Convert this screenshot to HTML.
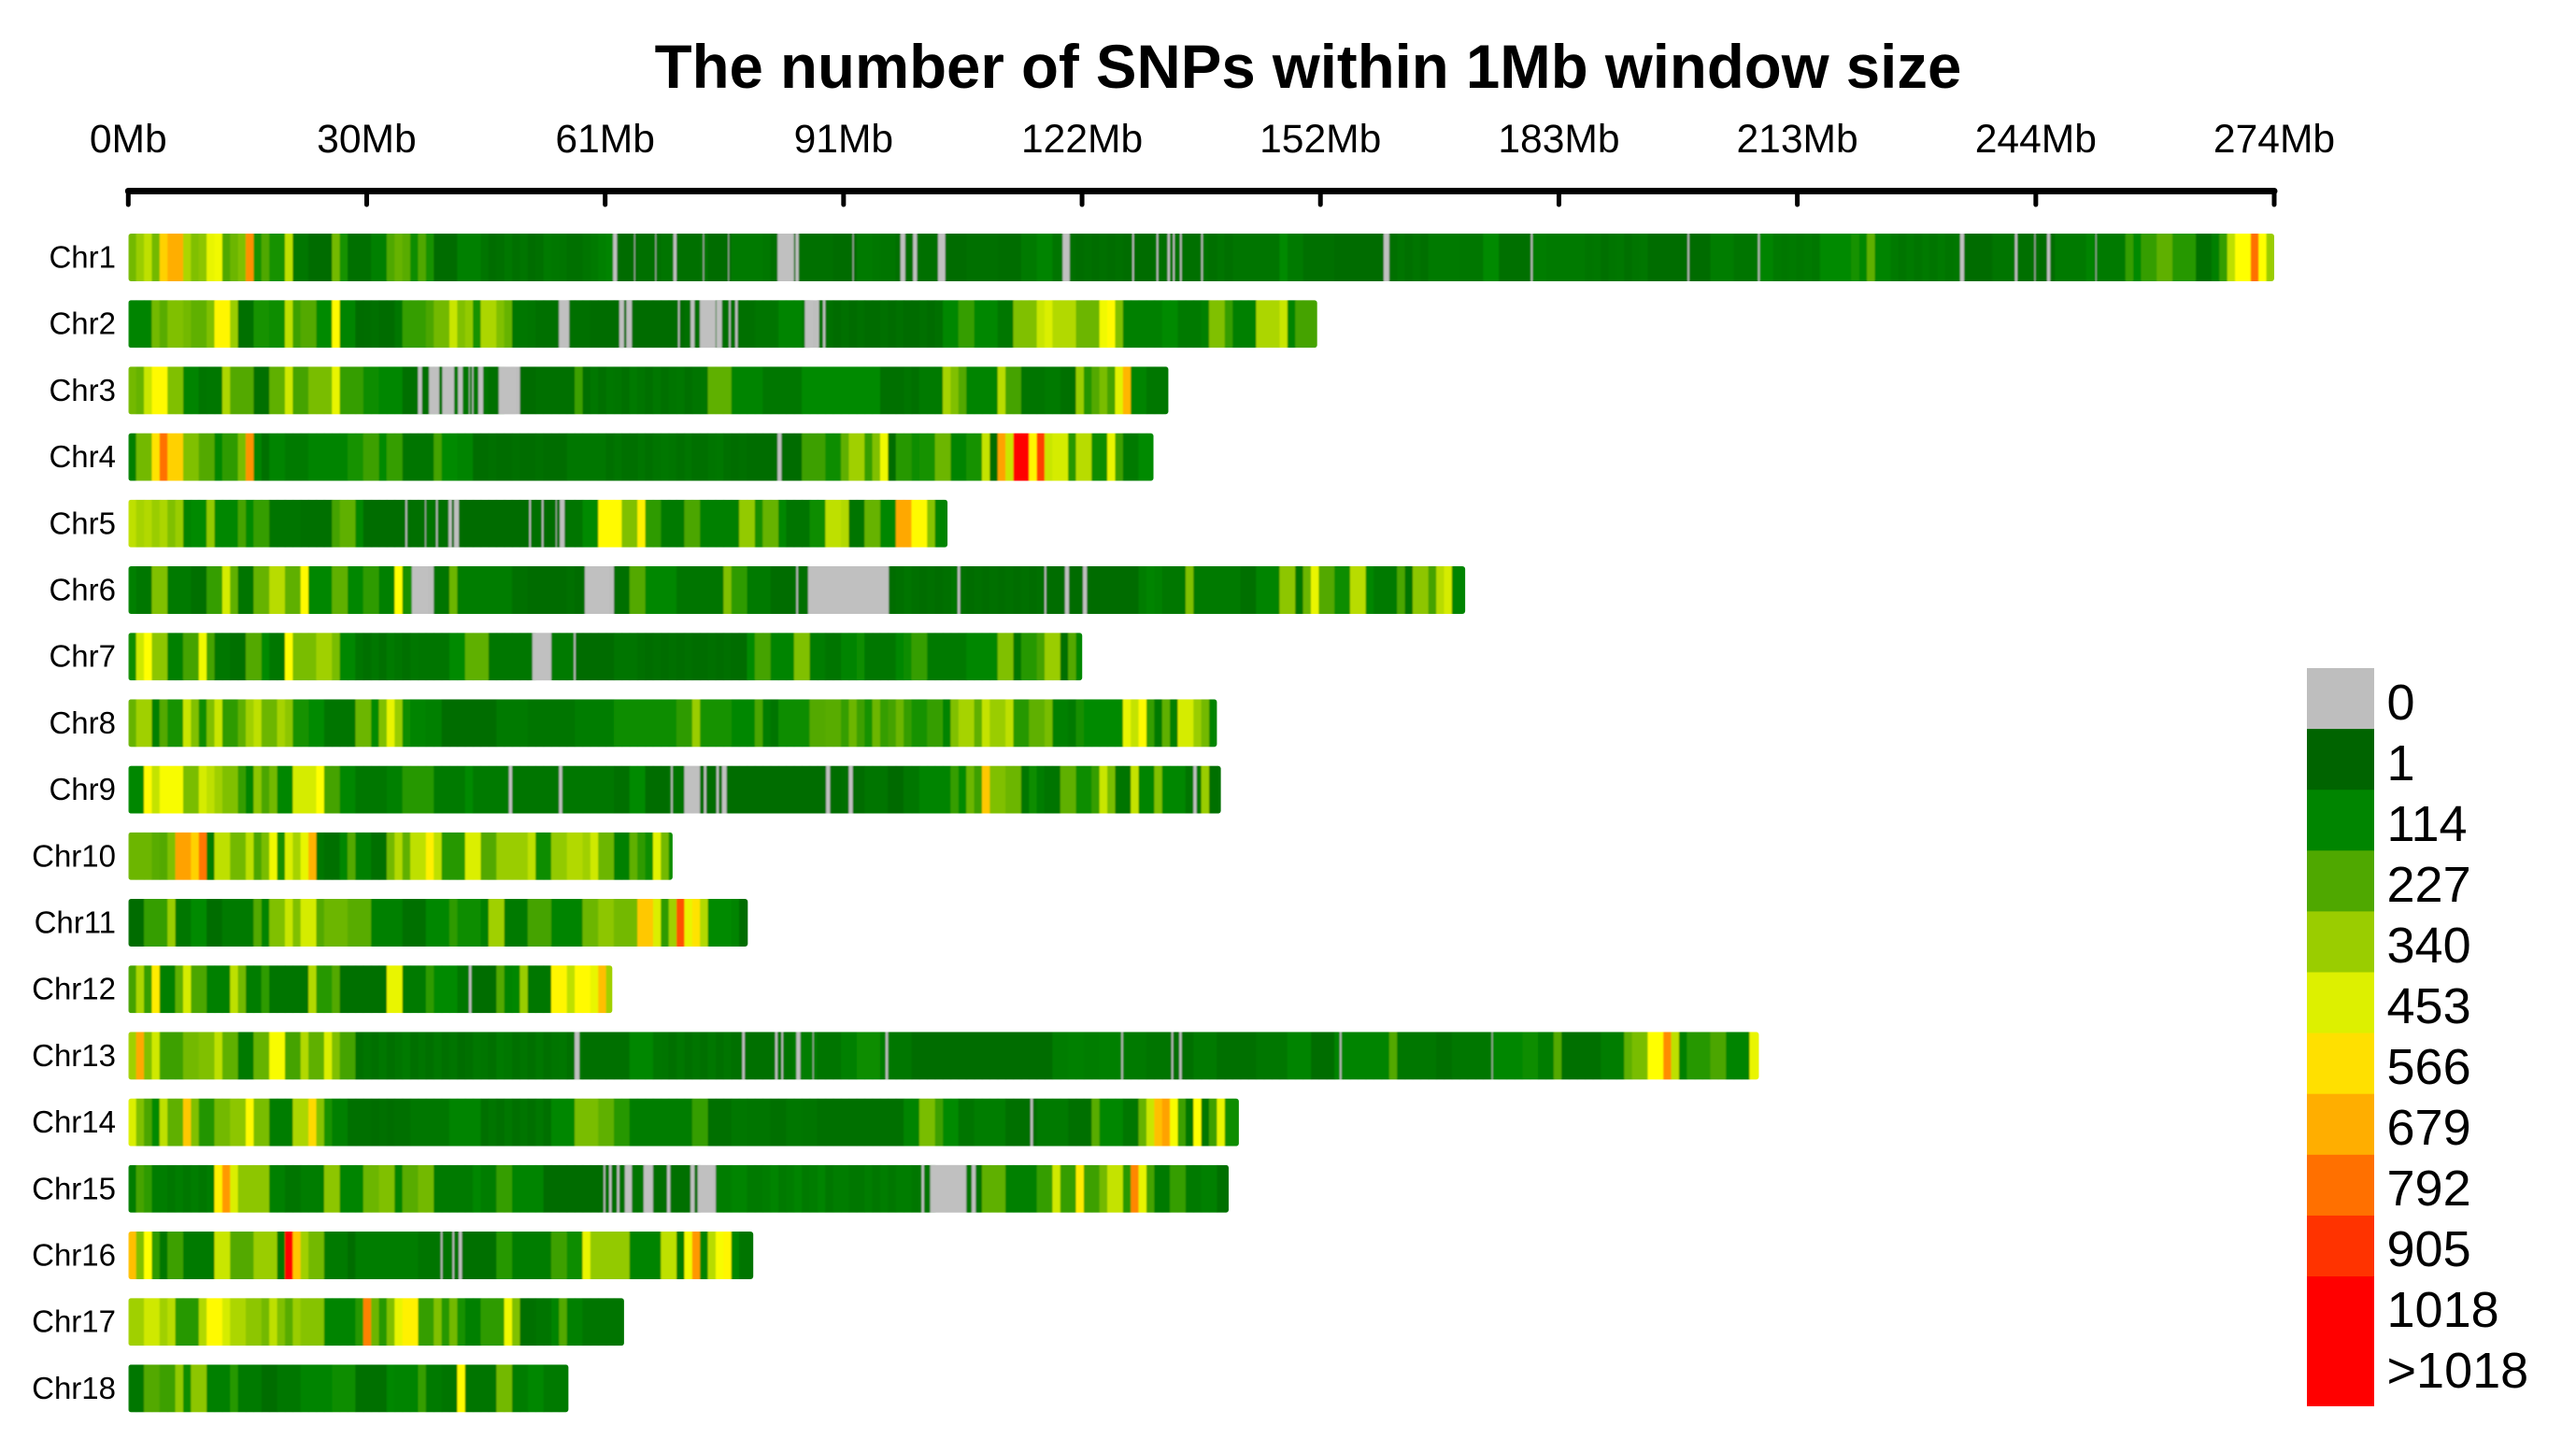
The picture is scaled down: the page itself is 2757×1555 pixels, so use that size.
<!DOCTYPE html>
<html lang="en">
<head>
<meta charset="utf-8">
<title>The number of SNPs within 1Mb window size</title>
<style>
html,body{margin:0;padding:0;background:#fff;}
svg{display:block;font-family:"Liberation Sans",sans-serif;}
</style>
</head>
<body>
<svg id="chart" xmlns="http://www.w3.org/2000/svg" width="2757" height="1555" viewBox="0 0 2757 1555">
<defs id="clips"><filter id="soften" x="-1%" y="-5%" width="102%" height="110%"><feGaussianBlur stdDeviation="0.9 0"/></filter></defs>
<rect x="0" y="0" width="2757" height="1555" fill="#ffffff"/>
<text x="1400" y="94" font-size="65.4" font-weight="700" text-anchor="middle" fill="#000">The number of SNPs within 1Mb window size</text>
<g id="axis"></g>
<g id="rows"></g>
<g id="legend"></g>
</svg>
<script>
const chrNames = ['Chr1','Chr2','Chr3','Chr4','Chr5','Chr6','Chr7','Chr8','Chr9','Chr10','Chr11','Chr12','Chr13','Chr14','Chr15','Chr16','Chr17','Chr18'];
const chrLengths = [274,151.8,132.8,130.9,104.6,170.7,121.8,139,139.5,69.5,79.1,61.8,208.2,141.8,140.5,79.8,63.3,56.2];
const tickLabels = ['0Mb','30Mb','61Mb','91Mb','122Mb','152Mb','183Mb','213Mb','244Mb','274Mb'];
const tickValues = [0,30.44,60.89,91.33,121.78,152.22,182.67,213.11,243.56,274];
const legendLabels = ['0','1','114','227','340','453','566','679','792','905','1018','>1018'];
const legendColors = ['#bebebe','#006400','#008500','#4fa800','#9acd00','#ddf000','#ffe000','#ffae00','#ff7000','#ff3300','#ff0000','#ff0000'];
const rampValues = [1,114,227,340,453,500,566,679,792,905,1018];
const rampColors = ['#006400','#008800','#50a800','#9acd00','#ddf000','#ffff00','#ffe000','#ffae00','#ff7000','#ff3300','#ff0000'];

const chr1Values = [280,340,400,280,600,679,679,370,300,320,470,480,227,270,300,735,150,227,150,150,400,60,60,25,25,25,280,150,40,40,40,90,90,227,260,240,130,227,150,25,25,25,90,90,90,50,30,40,60,40,50,30,40,70,60,50,40,40,50,70,90,100,25,25,25,40,40,40,50,50,40,40,40,50,25,25,25,70,70,70,70,60,40,0,0,40,40,40,40,40,25,25,25,70,70,60,50,50,40,40,40,40,40,40,25,25,25,40,40,40,40,30,30,30,70,70,100,100,50,50,40,30,40,30,40,30,40,30,25,25,25,40,40,40,40,40,40,50,40,50,40,50,50,50,50,50,50,120,70,70,40,40,40,40,25,25,25,25,25,25,25,40,50,40,50,40,70,70,70,70,60,60,60,120,120,40,40,40,40,80,80,70,70,70,70,70,50,60,40,50,60,40,50,60,30,30,30,30,30,25,25,25,80,80,80,50,50,50,100,100,70,60,70,60,70,60,120,120,120,120,150,110,250,100,100,70,50,70,50,70,50,70,50,60,25,25,25,25,50,50,50,40,40,40,25,25,70,70,70,70,100,70,70,70,70,190,120,190,190,250,250,170,170,170,40,40,90,190,400,500,500,792,500,340];
const chr2Values = [100,100,100,280,240,300,300,280,250,250,300,520,520,340,40,40,150,150,130,130,400,200,230,230,120,120,510,100,100,25,30,40,25,25,60,190,190,190,220,280,280,420,300,330,150,370,370,300,260,60,60,50,40,40,40,0,40,40,40,25,25,25,25,30,25,25,25,25,25,25,25,40,40,0,0,40,40,40,40,40,50,50,50,100,100,100,70,0,40,40,25,40,25,40,25,25,40,25,40,25,25,40,25,40,110,110,190,190,110,110,110,60,60,300,300,300,420,450,380,380,380,270,270,270,480,510,300,90,90,90,90,90,120,120,70,70,70,90,300,300,190,90,90,90,370,370,370,420,100,210,210,210];
const chr3Values = [280,260,420,510,510,300,300,100,100,50,60,60,370,230,230,230,40,40,250,250,430,210,210,290,290,290,470,190,190,190,130,130,110,110,110,40,40,40,40,40,60,60,60,60,60,60,40,40,0,0,25,25,40,40,40,40,40,200,40,60,40,60,50,40,70,50,40,60,40,50,60,40,50,60,250,250,250,100,100,100,100,60,60,60,60,60,120,120,120,120,120,120,120,120,120,120,40,40,40,50,40,70,70,70,360,300,230,100,100,100,100,390,210,210,50,50,50,70,70,40,40,340,160,230,290,210,460,660,100,100,60,60,60];
const chr4Values = [90,280,280,560,790,600,600,300,300,230,230,110,180,180,290,730,100,40,100,100,70,70,70,100,100,100,100,100,150,150,200,200,120,190,190,50,50,50,50,210,120,120,100,100,30,30,40,30,30,40,30,30,40,30,30,30,60,60,60,60,60,40,50,40,40,50,40,50,60,50,40,50,40,40,50,60,40,30,40,30,30,30,30,25,25,25,200,200,200,130,130,250,350,350,190,300,480,25,170,170,130,150,150,270,270,100,100,150,150,410,30,700,420,1050,1050,520,880,420,440,440,170,390,390,130,130,470,200,70,70,120,120];
const chr5Values = [400,360,380,340,370,300,340,100,120,120,330,110,110,110,210,120,190,190,50,50,50,50,40,40,40,40,210,250,250,110,30,30,30,30,30,30,40,40,50,40,40,30,25,25,25,25,25,25,25,25,25,40,40,30,30,40,50,50,120,120,510,510,510,300,300,530,180,180,70,70,70,220,220,90,90,90,90,90,330,330,140,260,260,110,50,50,50,130,130,400,400,380,50,50,260,260,110,110,690,690,510,510,310,100,100];
const chr6Values = [90,60,60,300,300,70,70,70,40,40,190,190,440,250,50,50,260,260,390,390,250,250,510,110,110,110,250,250,110,110,180,180,90,90,500,140,140,0,0,50,50,270,80,80,80,80,80,80,80,40,40,25,25,25,25,25,40,25,40,0,0,0,40,40,230,230,110,110,110,110,50,50,50,50,50,50,300,180,180,70,70,70,30,30,30,40,40,0,0,0,0,0,0,0,0,0,0,30,40,50,40,30,40,30,40,50,40,30,40,30,40,30,40,30,40,30,40,30,30,25,25,25,25,25,25,25,25,25,25,80,100,90,60,60,60,300,70,70,70,70,70,70,40,40,100,100,100,320,320,60,270,470,230,230,130,130,390,390,110,70,70,70,220,50,320,320,210,390,440,100,100];
const chr7Values = [130,430,500,320,320,90,90,210,210,480,210,60,60,40,40,230,230,120,60,60,500,290,290,290,350,350,290,110,110,50,40,60,40,70,50,40,60,50,50,50,50,120,120,250,250,250,60,60,60,60,60,60,0,0,70,70,70,25,25,25,25,25,50,50,50,40,30,40,30,40,30,40,30,30,40,30,40,30,30,120,210,210,100,100,100,300,300,80,80,50,50,100,100,130,60,60,60,60,110,130,190,190,70,70,70,70,70,110,110,110,110,300,300,60,170,170,210,340,340,40,230,110];
const chr8Values = [260,350,350,90,230,150,150,420,300,130,300,420,180,180,250,350,400,270,270,360,320,150,150,120,120,50,50,50,50,270,270,120,300,470,340,130,100,100,90,90,30,30,30,30,30,30,30,70,70,70,70,50,50,50,50,50,50,80,80,80,80,80,130,130,130,130,130,130,130,130,180,180,340,150,150,150,150,110,110,110,220,80,50,130,130,130,130,230,230,240,240,190,270,200,150,270,190,210,270,190,150,150,190,190,100,300,360,360,250,410,340,340,400,170,170,250,250,290,90,90,70,140,120,120,120,120,120,470,410,510,190,70,250,90,440,440,340,280,100];
const chr9Values = [110,110,510,410,490,490,490,290,290,440,400,350,300,300,190,100,320,220,280,110,110,440,440,440,500,210,210,110,110,60,60,60,60,90,90,170,170,170,170,70,70,70,70,120,70,70,70,70,70,50,50,50,50,50,50,60,60,60,60,60,60,60,40,40,120,120,30,30,30,50,50,0,0,30,30,30,30,30,30,30,30,30,30,30,30,30,30,30,30,30,30,40,30,30,50,50,50,20,20,60,60,100,100,100,100,190,120,270,200,620,300,300,270,270,60,130,80,50,50,250,250,130,130,190,420,290,50,50,410,100,100,300,110,110,110,50,60,340,40,40];
const chr10Values = [270,270,270,240,230,300,700,700,600,780,80,400,400,280,280,400,220,290,480,140,450,360,470,670,60,40,40,110,230,90,90,40,40,280,380,250,400,400,530,400,170,170,170,450,450,230,230,340,340,340,340,400,130,130,330,330,380,380,350,430,270,270,90,90,250,180,130,460,280,130];
const chr11Values = [25,25,190,190,190,340,60,60,120,120,30,30,70,70,70,70,230,100,300,300,420,300,440,440,230,270,270,270,240,240,240,90,90,90,90,40,40,40,110,110,110,180,130,130,130,90,350,350,70,70,70,210,210,210,100,100,100,100,270,270,320,320,280,280,280,620,620,450,180,350,850,470,560,380,120,120,120,100,30];
const chr12Values = [210,370,190,540,90,90,250,440,220,220,90,90,90,400,280,80,80,180,50,50,50,50,50,380,170,170,230,40,40,40,40,40,40,470,470,70,70,70,180,120,120,120,60,60,30,30,30,230,100,110,340,60,60,60,520,520,400,510,510,470,640,350];
const chr13Values = [350,690,300,430,200,200,200,280,280,300,300,400,250,250,70,70,260,260,490,490,210,210,380,250,250,450,300,210,210,40,50,40,60,40,50,70,40,50,40,60,40,50,30,40,60,50,40,70,60,40,50,40,60,40,50,60,40,50,40,40,40,40,40,40,110,110,110,60,50,40,60,40,50,40,60,40,50,40,40,40,40,40,40,50,50,80,80,80,50,50,50,90,90,130,130,130,80,60,60,60,30,30,30,30,30,30,30,30,30,30,30,30,30,30,30,30,30,30,80,80,90,90,80,80,90,90,90,70,70,70,50,50,50,40,40,40,70,70,70,40,40,40,40,40,60,60,60,60,100,100,100,30,30,30,100,100,100,100,100,100,100,230,60,60,60,60,60,40,40,60,60,60,60,60,110,110,110,110,130,130,80,80,230,40,40,40,40,40,80,80,80,250,290,290,500,500,740,400,90,170,170,170,220,220,100,100,100,470];
const chr14Values = [450,300,220,120,400,250,250,620,300,160,160,280,280,320,320,510,290,290,80,80,80,370,370,580,310,150,90,90,40,40,40,30,40,30,40,40,60,60,60,60,60,100,100,100,100,40,50,40,60,40,50,40,60,40,110,110,110,290,290,290,250,250,170,170,80,80,80,80,80,80,80,80,190,190,40,40,40,60,60,50,50,50,40,40,60,60,50,50,40,40,40,40,40,40,40,40,40,40,40,100,100,290,290,200,120,120,50,50,80,80,80,80,40,40,40,40,70,70,70,70,40,40,40,240,110,110,110,60,60,260,420,640,700,490,200,60,500,60,200,470,130,130];
const chr15Values = [80,210,180,80,80,60,80,60,80,60,80,530,720,450,320,320,320,320,90,90,50,50,80,80,80,320,320,100,100,100,270,270,300,300,100,240,240,280,280,70,70,70,70,70,110,80,80,190,190,100,100,100,100,25,25,25,25,25,25,25,25,40,40,40,50,50,0,40,40,40,40,40,40,0,0,80,80,100,100,70,70,80,100,70,80,100,70,80,100,60,80,80,60,60,80,60,80,60,80,80,60,60,60,0,0,0,0,60,50,250,250,250,90,90,90,90,190,190,430,190,190,540,200,200,280,410,410,170,750,470,210,70,70,190,190,70,70,90,90,40];
const chr16Values = [640,300,500,180,60,200,200,70,70,70,70,420,420,230,230,230,340,340,340,70,1020,620,350,280,280,70,70,70,30,80,80,80,80,80,80,80,80,50,50,50,50,50,30,40,40,40,40,170,170,80,80,80,80,80,200,200,130,130,470,330,330,330,330,330,100,100,100,100,400,400,80,480,720,100,390,490,520,110,50,50];
const chr17Values = [350,350,430,430,350,390,170,170,170,380,510,510,440,370,370,320,320,280,400,300,240,340,310,310,310,100,100,100,100,170,760,270,170,300,470,530,530,190,190,300,170,280,150,90,90,180,180,180,480,300,40,40,50,50,100,230,90,90,50,50,50,50,50];
const chr18Values = [60,60,230,230,200,200,330,130,320,320,90,90,90,170,70,70,70,30,30,60,60,60,100,100,100,100,130,130,130,40,40,40,40,110,100,100,100,190,70,70,50,50,510,50,50,50,50,280,280,80,80,110,110,70,70,70];

const chrValues = [chr1Values,chr2Values,chr3Values,chr4Values,chr5Values,chr6Values,chr7Values,chr8Values,chr9Values,chr10Values,chr11Values,chr12Values,chr13Values,chr14Values,chr15Values,chr16Values,chr17Values,chr18Values];

/* Zero-SNP stretches shorter than or offset from a whole window: [startMb, endMb] */
const chr1EmptyMb = [[61.9,62.4],[64.6,64.7],[67.3,67.4],[69.6,70],[73.4,73.5],[76.6,76.7],[82.9,84.8],[85.2,85.6],[92.5,92.6],[98.6,99.2],[100.2,100.7],[103.4,104.3],[119.3,120.2],[128.2,128.4],[131.3,131.5],[132.7,133],[133.4,133.6],[134.3,134.5],[137,137.2],[160.3,161],[179.1,179.3],[199.1,199.3],[208.1,208.3],[233.9,234.4],[240.9,241.2],[243.4,243.5],[245,245.4],[251.2,251.3]];
const chr2EmptyMb = [[55,56.3],[62.7,63.3],[63.6,64.3],[70.2,70.4],[71.8,72.3],[73,74.8],[75.1,75.8],[76.7,76.9],[77.5,77.8],[86.4,87.5],[87.9,88.2],[88.7,89]];
const chr3EmptyMb = [[37,37.5],[38.4,39.7],[40.1,41.6],[42.1,42.7],[43.5,43.6],[43.9,44.05],[44.7,45.3],[47.3,49.5]];
const chr4EmptyMb = [[82.9,83.4]];
const chr5EmptyMb = [[35.4,35.6],[37.9,38],[39.3,39.5],[40.9,41.3],[41.6,42.2],[51.2,51.4],[52.8,53],[54.6,54.7],[55.1,55.7]];
const chr6EmptyMb = [[36.2,38.3],[58.3,61.4],[85.3,85.5],[86.8,97.1],[105.9,106.2],[117,117.2],[119.6,120.1],[121.9,122.4]];
const chr7EmptyMb = [[51.6,54],[56.9,57.1]];
const chr8EmptyMb = [];
const chr9EmptyMb = [[48.6,49],[55,55.4],[69.3,69.5],[71,72.8],[73.5,73.8],[75.1,75.4],[75.8,76.4],[89.1,89.6],[92,92.5],[136,136.4]];
const chr10EmptyMb = [];
const chr11EmptyMb = [];
const chr12EmptyMb = [[43.5,43.8]];
const chr13EmptyMb = [[57,57.6],[78.4,78.7],[82.6,82.9],[83.4,83.6],[85.3,85.8],[87.4,87.5],[96.7,97],[126.8,127],[133.2,133.4],[134.2,134.5],[154.7,154.9],[174.1,174.2]];
const chr14EmptyMb = [[115.2,115.5]];
const chr15EmptyMb = [[60.7,60.9],[61.4,61.7],[62.4,62.7],[63.4,64.3],[65.8,66.8],[68.8,69.2],[71.8,72.3],[72.7,74.7],[101.3,101.6],[102.4,106.8],[107.7,108.2]];
const chr16EmptyMb = [[39.9,40.1],[41.4,41.6],[42.2,42.6]];
const chr17EmptyMb = [];
const chr18EmptyMb = [];

const chrEmptyMb = [chr1EmptyMb,chr2EmptyMb,chr3EmptyMb,chr4EmptyMb,chr5EmptyMb,chr6EmptyMb,chr7EmptyMb,chr8EmptyMb,chr9EmptyMb,chr10EmptyMb,chr11EmptyMb,chr12EmptyMb,chr13EmptyMb,chr14EmptyMb,chr15EmptyMb,chr16EmptyMb,chr17EmptyMb,chr18EmptyMb];

const NS = 'http://www.w3.org/2000/svg';
const X0 = 137.3, MB_MAX = 274, X1 = 2434;
function xScale(mb){ return X0 + mb * (X1 - X0) / MB_MAX; }
function rowTop(i){ return 250 + i * 71.2; }
const BAR_H = 51;

function hexToRgb(h){ return [parseInt(h.slice(1,3),16),parseInt(h.slice(3,5),16),parseInt(h.slice(5,7),16)]; }
function colorFor(v){
  if (v <= 0) return '#bebebe';
  if (v >= rampValues[rampValues.length-1]) return rampColors[rampColors.length-1];
  for (let k = 0; k < rampValues.length - 1; k++) {
    if (v <= rampValues[k+1]) {
      const t = Math.max(0,(v - rampValues[k]) / (rampValues[k+1] - rampValues[k]));
      const a = hexToRgb(rampColors[k]), b = hexToRgb(rampColors[k+1]);
      return 'rgb(' + a.map((c,n) => Math.round(c + (b[n]-c)*t)).join(',') + ')';
    }
  }
  return rampColors[0];
}
function make(tag, attrs, parent){
  const el = document.createElementNS(NS, tag);
  for (const key in attrs) el.setAttribute(key, attrs[key]);
  parent.appendChild(el);
  return el;
}

/* axis */
const axisG = document.getElementById('axis');
const axisLine = make('line', {x1:X0, x2:X1, y1:204.5, y2:204.5, stroke:'#000', 'stroke-width':7, 'stroke-linecap':'round'}, axisG);


tickValues.forEach((mb, i) => {
  const tick = make('line', {x1:xScale(mb), x2:xScale(mb), y1:205, y2:219, stroke:'#000', 'stroke-width':5, 'stroke-linecap':'round'}, axisG);
  
  
  const label = make('text', {x:xScale(mb), y:163, 'font-size':42.6, 'text-anchor':'middle', fill:'#000'}, axisG);
  
  
  label.textContent = tickLabels[i];
});

/* chromosome rows */
const rowsG = document.getElementById('rows');
const clipsG = document.getElementById('clips');
chrNames.forEach((name, i) => {
  const top = rowTop(i);
  const row = make('g', {}, rowsG);
  
  
  const label = make('text', {x:124, y:top + 36.5, 'font-size':33, 'text-anchor':'end', fill:'#000'}, row);
  
  
  label.textContent = name;

  const clip = make('clipPath', {id:'clip-' + i}, clipsG);
  make('rect', {x:xScale(0), y:top, width:xScale(chrLengths[i]) - xScale(0), height:BAR_H, rx:3, ry:3}, clip);

  const bar = make('g', {'clip-path':'url(#clip-' + i + ')'}, row);
  
  
  const cells = make('g', {filter:'url(#soften)'}, bar);
  chrValues[i].forEach((value, w) => {
    const left = xScale(w);
    const isLast = w === chrValues[i].length - 1;
    const right = isLast ? xScale(Math.max(w + 1, chrLengths[i])) + 3 : xScale(w + 1) + 0.6;
    const cell = make('rect', {x:left, y:top, width:right - left, height:BAR_H, fill:colorFor(value)}, cells);
    
    
  });
  chrEmptyMb[i].forEach(range => {
    const left = xScale(range[0]);
    const gap = make('rect', {x:left, y:top, width:xScale(range[1]) - left, height:BAR_H, fill:'#c0c0c0'}, cells);
    
    
  });
});

/* legend */
const legendG = document.getElementById('legend');
legendLabels.forEach((text, i) => {
  const y = 715 + i * 65.1;
  const h = i === legendLabels.length - 1 ? 1505 - y : 65.6;
  const swatch = make('rect', {x:2469, y:y, width:72, height:h, fill:legendColors[i]}, legendG);
  
  
  const label = make('text', {x:2554.5, y:770 + i * 65, 'font-size':54, fill:'#000'}, legendG);
  
  
  label.textContent = text;
});
</script>
</body>
</html>
